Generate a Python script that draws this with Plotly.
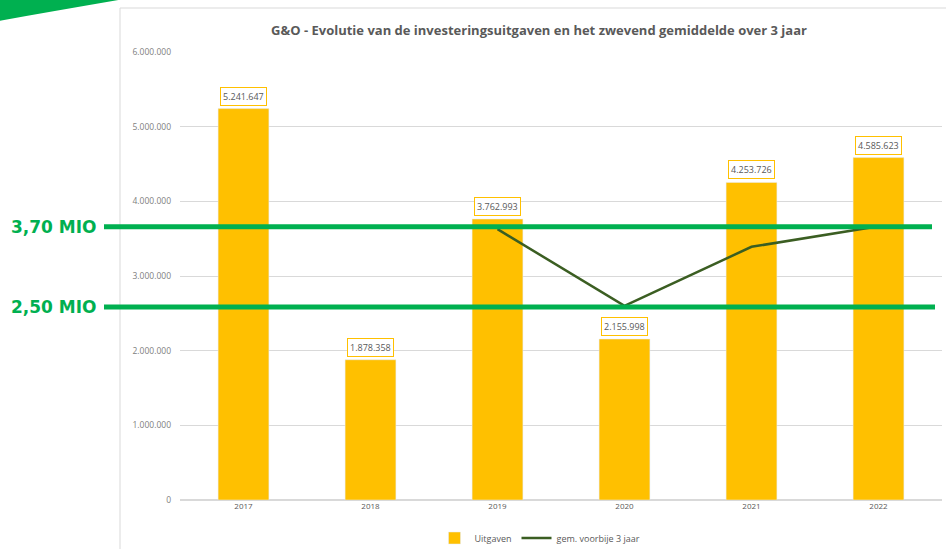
import plotly.graph_objects as go

years = ["2017", "2018", "2019", "2020", "2021", "2022"]
uitgaven = [5241647, 1878358, 3762993, 2155998, 4253726, 4585623]
gem_years = ["2019", "2020", "2021", "2022"]
gem_3jaar = [3627666, 2599116, 3390906, 3665116]
mio_levels = [3660000, 2585000]
mio_labels = ["3,70 MIO", "2,50 MIO"]

BAR = "#FFC000"
LINE = "#3B5E22"
GREEN = "#00B050"
GREY = "#595959"

fig = go.Figure()
fig.add_trace(go.Bar(x=years, y=uitgaven, name="Uitgaven", marker_color=BAR,
                     width=0.4, hoverinfo="skip"))
fig.add_trace(go.Scatter(x=gem_years, y=gem_3jaar, name="gem. voorbije 3 jaar",
                         mode="lines", line=dict(color=LINE, width=2.5)))

def fmt(v):
    return f"{v:,}".replace(",", ".")

for i, v in enumerate(uitgaven):
    fig.add_annotation(x=i, y=v, text=fmt(v), showarrow=False, yanchor="bottom",
                       yshift=3, font=dict(size=9, color=GREY, family="Open Sans"),
                       bordercolor=BAR, borderwidth=1, borderpad=2, bgcolor="white")

def px(x):
    return (x-180)/762
def py(y):
    return (500-y)/448

# panel border
fig.add_shape(type="rect", xref="paper", yref="paper", x0=px(120), x1=px(960),
              y0=py(560), y1=py(8), line=dict(color="#D9D9D9", width=1), layer="below")

# green swoosh top-left
path = (f"M {px(-2)},{py(-2)} L {px(130)},{py(-2)} "
        f"Q {px(60)},{py(10)} {px(-2)},{py(21)} Z")
fig.add_shape(type="path", xref="paper", yref="paper", path=path,
              fillcolor=GREEN, line=dict(width=0))

for lvl, lab, xend in zip(mio_levels, mio_labels, [932, 935]):
    fig.add_shape(type="line", xref="paper", yref="y", x0=px(104), x1=px(xend),
                  y0=lvl, y1=lvl, line=dict(color=GREEN, width=5))
    fig.add_annotation(xref="paper", yref="y", x=px(99), y=lvl, text="<b>" + lab + "</b>",
                       showarrow=False, xanchor="right", yanchor="middle",
                       font=dict(size=17, color=GREEN, family="DejaVu Sans"))

fig.update_layout(
    width=946, height=549,
    margin=dict(l=180, r=4, t=52, b=49, autoexpand=False),
    paper_bgcolor="white", plot_bgcolor="white",
    separators=",.",
    title=dict(text="<b>G&O - Evolutie van de investeringsuitgaven en het zwevend gemiddelde over 3 jaar</b>",
               x=px(539), xref="paper", xanchor="center", y=(549-30)/549, yanchor="middle",
               font=dict(size=13, color=GREY, family="Open Sans")),
    showlegend=True,
    legend=dict(orientation="h", x=px(540), xanchor="center", y=py(538), yanchor="middle",
                font=dict(size=9, color=GREY, family="Open Sans"), itemwidth=30),
)
fig.update_yaxes(range=[0, 6000000], dtick=1000000, tickformat=",d",
                 gridcolor="#D9D9D9", gridwidth=1, zeroline=True, zerolinecolor="#D9D9D9",
                 tickfont=dict(size=8.5, color="#808080", family="Open Sans"),
                 ticklabelstandoff=8, showline=False, automargin=False)
fig.update_xaxes(type="category", range=[-0.5, 5.5], autorange=False,
                 tickfont=dict(size=8, color=GREY, family="Open Sans"),
                 showline=False, showgrid=False, automargin=False)

fig.write_html("out.html", config={"displayModeBar": False},
               post_script="document.body.style.margin='0';")
